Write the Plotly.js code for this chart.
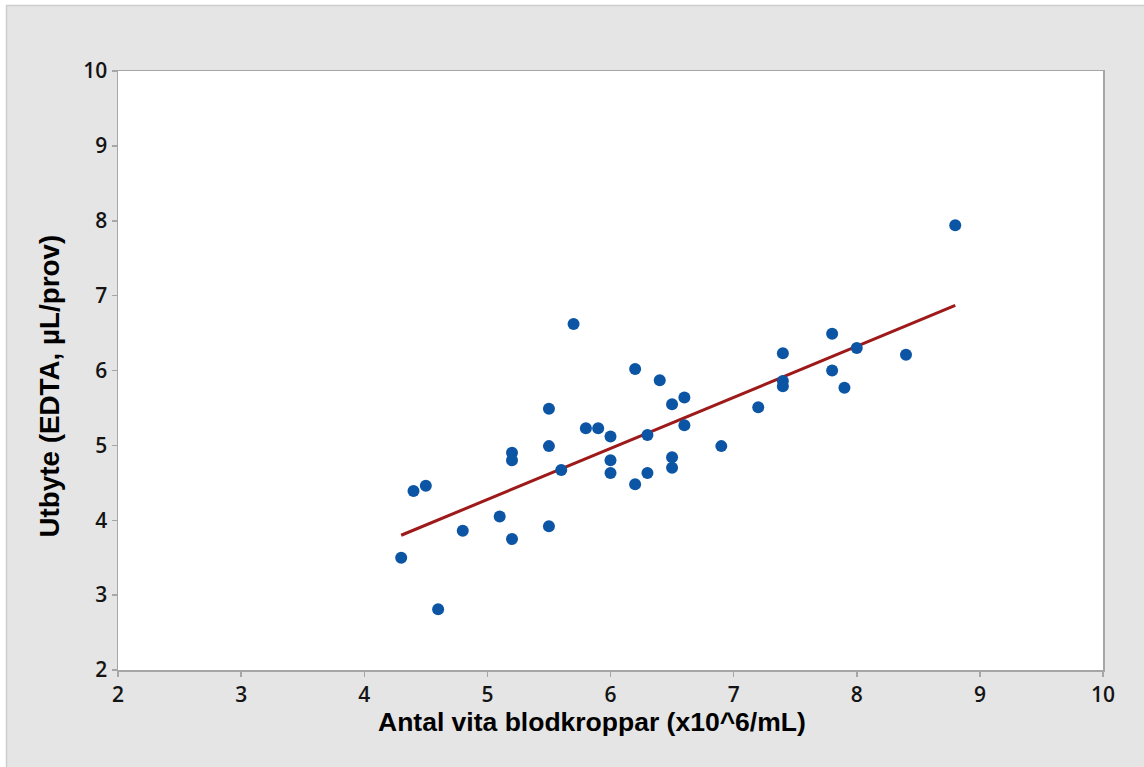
<!DOCTYPE html>
<html>
<head>
<meta charset="utf-8">
<script src="https://cdn.plot.ly/plotly-3.0.1.min.js"></script>
<style>html,body{margin:0;padding:0;background:#fff;}#chart{width:1144px;height:767px;}</style>
</head>
<body>
<div id="chart"></div>
<script>
// White blood cell count (x10^6/mL)
const wbc = [4.3, 4.4, 4.5, 4.6, 4.8, 5.1, 5.2, 5.2, 5.2, 5.5, 5.5, 5.5, 5.6, 5.7, 5.8, 5.9,
             6.0, 6.0, 6.0, 6.2, 6.2, 6.3, 6.3, 6.4, 6.5, 6.5, 6.5, 6.6, 6.6, 6.9, 7.2,
             7.4, 7.4, 7.4, 7.8, 7.8, 7.9, 8.0, 8.4, 8.8];
// Yield (EDTA, µL/sample)
const yieldVals = [3.50, 4.39, 4.46, 2.81, 3.86, 4.05, 4.90, 4.80, 3.75, 5.49, 4.99, 3.92, 4.67, 6.62, 5.23, 5.23,
                   5.12, 4.80, 4.63, 6.02, 4.48, 5.14, 4.63, 5.87, 5.55, 4.84, 4.70, 5.64, 5.27, 4.99, 5.51,
                   6.23, 5.86, 5.79, 6.49, 6.00, 5.77, 6.30, 6.21, 7.94];
// fitted regression line
const fitIntercept = 0.867;
const fitSlope = 0.682;
const xTicks = [2, 3, 4, 5, 6, 7, 8, 9, 10];
const yTicks = [2, 3, 4, 5, 6, 7, 8, 9, 10];
const xTitle = 'Antal vita blodkroppar (x10^6/mL)';
const yTitle = 'Utbyte (EDTA, µL/prov)';

const fitX = [Math.min(...wbc), Math.max(...wbc)];
const fitY = fitX.map(x => fitIntercept + fitSlope * x);

const data = [
  { x: fitX, y: fitY, mode: 'lines', type: 'scatter', line: { color: '#9e1a1a', width: 3 }, hoverinfo: 'skip' },
  { x: wbc, y: yieldVals, mode: 'markers', type: 'scatter', marker: { color: '#0b55a4', size: 12 } }
];

const tickFont = { family: 'Open Sans, Noto Sans, sans-serif', size: 21, color: '#141414', weight: 600 };
const px = p => (p - 118) / 985;
const py = p => (670 - p) / 599;

const layout = {
  width: 1144, height: 767,
  margin: { l: 118, r: 41, t: 71, b: 97 },
  paper_bgcolor: '#e5e5e5',
  plot_bgcolor: '#ffffff',
  showlegend: false,
  xaxis: {
    range: [2, 10], tickvals: xTicks, ticktext: xTicks.map(String),
    showgrid: false, zeroline: false,
    showline: true, linecolor: '#a6a6a6', linewidth: 1.5, mirror: true,
    ticks: 'outside', ticklen: 5, tickwidth: 1.5, tickcolor: '#a6a6a6',
    tickfont: tickFont
  },
  yaxis: {
    range: [2, 10], tickvals: yTicks, ticktext: yTicks.map(String),
    showgrid: false, zeroline: false,
    showline: true, linecolor: '#a6a6a6', linewidth: 1.5, mirror: true,
    ticks: 'outside', ticklen: 5, tickwidth: 1.5, tickcolor: '#a6a6a6',
    tickfont: tickFont
  },
  annotations: [
    { text: '<b>' + xTitle + '</b>', xref: 'paper', yref: 'paper', x: px(591.5), y: py(722), xanchor: 'center', yanchor: 'middle', showarrow: false,
      font: { family: 'Liberation Sans, Arial, sans-serif', size: 26.5, color: '#000' } },
    { text: '<b>' + yTitle + '</b>', xref: 'paper', yref: 'paper', x: px(49), y: py(386.5), xanchor: 'center', yanchor: 'middle', showarrow: false, textangle: -90,
      font: { family: 'Liberation Sans, Arial, sans-serif', size: 27.8, color: '#000' } }
  ],
  shapes: [
    { type: 'rect', xref: 'paper', yref: 'paper', x0: px(-2), x1: px(6), y0: py(-2), y1: py(780), fillcolor: '#ffffff', line: { width: 0 }, layer: 'below' },
    { type: 'rect', xref: 'paper', yref: 'paper', x0: px(-2), x1: px(1150), y0: py(-2), y1: py(5), fillcolor: '#ffffff', line: { width: 0 }, layer: 'below' },
    { type: 'line', xref: 'paper', yref: 'paper', x0: px(6.5), x1: px(6.5), y0: py(5), y1: py(780), line: { color: '#cdcdcd', width: 1.5 }, layer: 'below' },
    { type: 'line', xref: 'paper', yref: 'paper', x0: px(6), x1: px(1150), y0: py(5.5), y1: py(5.5), line: { color: '#cdcdcd', width: 1.5 }, layer: 'below' }
  ]
};

Plotly.newPlot('chart', data, layout, { displayModeBar: false, staticPlot: true });
</script>
</body>
</html>
